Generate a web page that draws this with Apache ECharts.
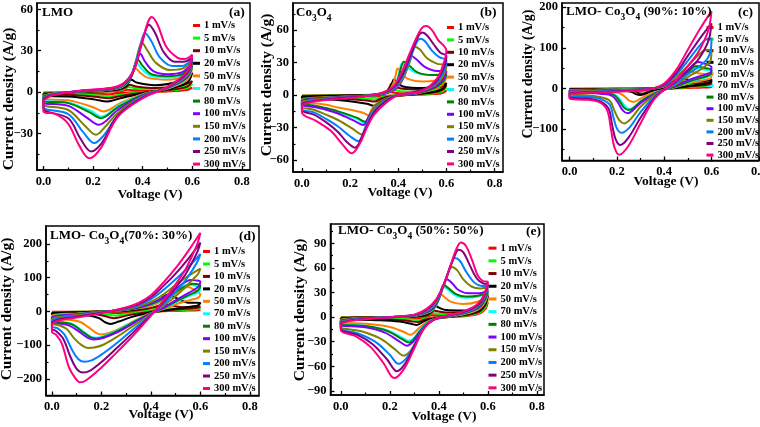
<!DOCTYPE html>
<html><head><meta charset="utf-8">
<script src="https://cdn.jsdelivr.net/npm/echarts@6.0.0/dist/echarts.min.js"></script>
<style>html,body{margin:0;padding:0;background:#fff}#c{width:760px;height:427px}</style>
</head><body><div id="c"></div>
<script>
// ---------------- DATA ----------------
const rates = [1, 5, 10, 20, 50, 70, 80, 100, 150, 200, 250, 300];
const xTicks = [0, 0.2, 0.4, 0.6, 0.8];
const xMinor = [0.1, 0.3, 0.5, 0.7];
const yTicksLMO = [-30, 0, 30, 60];
const yMinorLMO = [-45, -15, 15, 45];
const yTicksCo = [-60, -30, 0, 30, 60];
const yMinorCo = [-45, -15, 15, 45, 75];
const yTicks9010 = [-100, 0, 100, 200];
const yMinor9010 = [-150, -50, 50, 150];
const yTicks7030 = [-200, -100, 0, 100, 200];
const yMinor7030 = [-150, -50, 50, 150];
const yTicks5050 = [-90, -60, -30, 0, 30, 60, 90];
const yMinor5050 = [-75, -45, -15, 15, 45, 75, 105];

// (a) LMO : [voltage, current] loops, one per scan rate
const curvesLMO = [
[[0,-0.3],[0.15,0.1],[0.3,0.6],[0.32,1],[0.338,1.7],[0.36,1.3],[0.45,1],[0.55,1.8],[0.6,3],[0.58,1.5],[0.5,0.5],[0.4,0],[0.3,-0.9],[0.27,-1.5],[0.22,-1.2],[0.1,-0.7],[0,-0.6],[0,-0.3]],
[[0,-0.6],[0.15,0.2],[0.3,1],[0.325,2.2],[0.344,3.6],[0.365,2.9],[0.45,2.2],[0.55,3.5],[0.6,6],[0.58,3],[0.5,1],[0.4,-0.2],[0.31,-2],[0.27,-3],[0.22,-2.4],[0.1,-1.4],[0,-1.1],[0,-0.6]],
[[0,-1],[0.15,0.2],[0.3,1.4],[0.33,3.2],[0.348,5.3],[0.37,4.2],[0.45,3],[0.55,4.5],[0.6,8],[0.58,4],[0.5,1.3],[0.4,-0.4],[0.31,-2.8],[0.265,-4.4],[0.21,-3.4],[0.1,-2],[0,-1.6],[0,-1]],
[[0,-1.5],[0.15,0.3],[0.3,2],[0.335,5],[0.355,9],[0.375,7],[0.45,5],[0.55,8],[0.6,14],[0.58,7],[0.5,2],[0.4,-0.8],[0.31,-4.5],[0.258,-6.8],[0.2,-5.2],[0.1,-3.2],[0,-2.6],[0,-1.5]],
[[0,-2.5],[0.04,-1],[0.15,0.4],[0.3,2.6],[0.34,7],[0.358,13],[0.371,17.4],[0.39,14],[0.42,10.5],[0.5,9],[0.56,11],[0.6,17],[0.58,9],[0.5,2.5],[0.4,-1.5],[0.31,-8],[0.242,-14],[0.2,-11],[0.1,-6],[0,-5],[0,-2.5]],
[[0,-3],[0.04,-1.2],[0.15,0.4],[0.3,2.8],[0.345,8],[0.363,16],[0.377,21],[0.395,17],[0.43,12],[0.5,10.5],[0.56,12.5],[0.6,19],[0.58,10],[0.5,2.8],[0.4,-1.8],[0.3,-10],[0.235,-17.7],[0.19,-13.5],[0.1,-7.5],[0,-6],[0,-3]],
[[0,-3],[0.04,-1.3],[0.15,0.5],[0.3,3],[0.348,9],[0.366,18],[0.381,23.5],[0.4,19],[0.435,13],[0.5,11.5],[0.56,13],[0.6,19.5],[0.58,10.5],[0.5,3],[0.4,-2],[0.3,-11],[0.232,-18.9],[0.185,-14.5],[0.1,-8],[0,-6.5],[0,-3]],
[[0,-3.5],[0.04,-1.5],[0.15,0.6],[0.3,3.2],[0.35,10],[0.372,21],[0.39,27.8],[0.41,22],[0.445,15],[0.5,13],[0.56,14.5],[0.6,21],[0.58,11],[0.5,3],[0.4,-2.5],[0.3,-13],[0.222,-23.7],[0.175,-18.5],[0.1,-10],[0,-7.5],[0,-3.5]],
[[0,-4],[0.04,-1.6],[0.15,0.8],[0.3,3.5],[0.35,11],[0.375,24],[0.397,36],[0.42,30],[0.455,21],[0.51,16],[0.56,17],[0.6,22],[0.58,12],[0.5,3.2],[0.4,-3],[0.3,-15],[0.25,-25],[0.212,-31],[0.165,-24],[0.1,-13],[0,-9],[0,-4]],
[[0,-4.5],[0.04,-1.8],[0.15,0.9],[0.3,3.8],[0.355,13],[0.385,30],[0.41,42.9],[0.435,37],[0.47,25],[0.52,19],[0.56,19],[0.6,24],[0.58,13],[0.5,3.4],[0.4,-3.5],[0.3,-17],[0.245,-31],[0.205,-37],[0.16,-29],[0.1,-16],[0,-11],[0,-4.5]],
[[0,-5],[0.04,-2],[0.15,1],[0.3,4],[0.36,14],[0.395,34],[0.426,48.9],[0.45,43],[0.485,29],[0.53,22],[0.565,22],[0.6,25],[0.58,14],[0.5,3.6],[0.4,-4],[0.3,-17],[0.235,-37],[0.192,-43],[0.15,-34],[0.1,-19],[0,-12],[0,-5]],
[[0,-6],[0.04,-2.2],[0.15,1],[0.3,4.2],[0.36,14],[0.4,38],[0.437,54.5],[0.46,49],[0.495,33],[0.54,25],[0.57,24],[0.6,27],[0.58,15],[0.5,3.8],[0.4,-4.5],[0.3,-18],[0.23,-41],[0.185,-48],[0.145,-39],[0.1,-23],[0.05,-16],[0,-14],[0,-6]]
];

// (b) Co3O4
const curvesCo3O4 = [
[[0,-0.3],[0.15,0],[0.3,0.2],[0.34,1],[0.36,3],[0.38,2.3],[0.42,1.6],[0.5,1.5],[0.56,2.5],[0.6,4],[0.585,2],[0.55,1],[0.45,0],[0.37,-0.4],[0.33,-0.9],[0.3,-1.5],[0.27,-1.3],[0.15,-0.8],[0.05,-0.6],[0,-0.6],[0,-0.3]],
[[0,-0.6],[0.15,-0.2],[0.3,0.2],[0.34,1.5],[0.355,4],[0.366,6.2],[0.38,5],[0.41,3.5],[0.5,3],[0.56,4.5],[0.6,7],[0.585,3.5],[0.55,1.8],[0.45,0.2],[0.37,-0.7],[0.33,-2],[0.3,-4],[0.27,-3.3],[0.15,-2],[0.05,-1.5],[0,-1.4],[0,-0.6]],
[[0,-1],[0.15,-0.4],[0.3,0.3],[0.345,2],[0.362,6.5],[0.372,10.8],[0.385,8.5],[0.41,6],[0.5,5],[0.56,6.5],[0.6,9],[0.585,5],[0.55,2.5],[0.45,0.3],[0.37,-1],[0.33,-3],[0.3,-6],[0.27,-5],[0.15,-3],[0.05,-2.2],[0,-2],[0,-1]],
[[0,-1.5],[0.15,-0.6],[0.3,0.4],[0.35,2.5],[0.37,8],[0.382,14.5],[0.395,12],[0.42,8],[0.5,6.5],[0.56,8],[0.6,11],[0.585,6],[0.55,3],[0.45,0.5],[0.37,-1.5],[0.33,-4.5],[0.297,-9.8],[0.27,-8],[0.15,-4.5],[0.05,-3.3],[0,-3],[0,-1.5]],
[[0,-3.5],[0.05,-2.5],[0.15,-1.5],[0.25,-0.5],[0.33,0.6],[0.36,3.5],[0.38,11],[0.39,19],[0.397,24.6],[0.41,21],[0.44,15],[0.5,12.5],[0.56,13.5],[0.6,16],[0.585,10],[0.55,5.5],[0.48,1.5],[0.4,-0.3],[0.35,-3],[0.31,-8],[0.29,-13],[0.276,-18.5],[0.25,-16],[0.15,-11.5],[0.1,-9],[0.05,-7.5],[0,-6.5],[0,-3.5]],
[[0,-4.5],[0.05,-3.2],[0.15,-1.9],[0.25,-0.7],[0.33,0.6],[0.37,4],[0.393,13],[0.405,22],[0.415,29],[0.43,27],[0.47,21],[0.53,18.5],[0.6,20],[0.585,12.5],[0.55,7],[0.48,1.9],[0.4,0],[0.35,-3.7],[0.31,-9.5],[0.285,-18],[0.262,-26],[0.23,-22],[0.15,-16],[0.1,-12.5],[0.05,-10],[0,-8.5],[0,-4.5]],
[[0,-4.5],[0.05,-3],[0.15,-1.8],[0.25,-0.7],[0.33,0.6],[0.37,4],[0.395,12],[0.41,24],[0.423,30.8],[0.44,28.5],[0.48,21],[0.54,18.5],[0.6,19],[0.585,12],[0.55,6.5],[0.48,1.8],[0.4,0],[0.35,-3.5],[0.31,-9],[0.285,-17],[0.262,-24.6],[0.23,-21],[0.15,-15],[0.1,-12],[0.05,-9.5],[0,-8],[0,-4.5]],
[[0,-5],[0.05,-3.5],[0.15,-2],[0.25,-0.8],[0.33,0.7],[0.38,4],[0.415,13],[0.44,27],[0.455,36],[0.475,33],[0.51,26],[0.55,22.5],[0.6,22],[0.585,14],[0.55,7.5],[0.48,2],[0.4,0],[0.35,-4],[0.31,-10],[0.28,-19],[0.255,-27.7],[0.22,-24],[0.15,-17],[0.1,-13.5],[0.05,-11],[0,-9],[0,-5]],
[[0,-6],[0.05,-4],[0.15,-2.4],[0.25,-1],[0.33,1.2],[0.38,5],[0.42,16],[0.45,32],[0.469,44.6],[0.49,42],[0.52,34],[0.56,29],[0.6,27],[0.585,17],[0.55,9],[0.48,2.5],[0.4,0],[0.35,-4.5],[0.3,-12],[0.275,-24],[0.248,-36.3],[0.21,-31],[0.15,-23],[0.1,-18],[0.05,-13.5],[0,-11],[0,-6]],
[[0,-7],[0.05,-5],[0.15,-2.8],[0.25,-1.2],[0.33,1.6],[0.38,6],[0.42,18],[0.45,34],[0.475,48],[0.49,52],[0.51,50],[0.54,41],[0.57,35],[0.6,32],[0.585,20],[0.55,10],[0.48,3],[0.4,0],[0.35,-5],[0.3,-14],[0.265,-29],[0.234,-42.5],[0.2,-38],[0.15,-29],[0.1,-22],[0.05,-16],[0,-13],[0,-7]],
[[0,-8],[0.05,-5.5],[0.15,-3],[0.25,-1.3],[0.33,1.8],[0.38,7],[0.42,20],[0.455,39],[0.485,55],[0.5,57.8],[0.52,55],[0.55,46],[0.575,39],[0.6,36],[0.585,23],[0.55,11],[0.48,3.5],[0.4,0],[0.35,-5.5],[0.3,-16],[0.26,-33],[0.22,-48.6],[0.185,-43],[0.15,-34],[0.1,-25],[0.05,-18],[0,-14],[0,-8]],
[[0,-9],[0.05,-6],[0.15,-3.5],[0.25,-1.5],[0.33,2],[0.38,8],[0.42,24],[0.46,45],[0.495,61],[0.517,63.7],[0.54,60],[0.565,51],[0.6,41],[0.585,27],[0.56,15],[0.5,4],[0.4,0],[0.35,-7],[0.3,-18],[0.27,-30],[0.24,-45],[0.207,-53.8],[0.17,-46],[0.12,-33],[0.06,-24],[0,-16],[0,-9]]
];

// (c) LMO-Co3O4 (90%:10%)
const curves9010 = [
[[0,-0.4],[0.2,-0.2],[0.3,0],[0.4,1],[0.44,2.5],[0.46,4],[0.49,3.2],[0.55,3],[0.6,5],[0.597,3.2],[0.55,2],[0.5,1.2],[0.45,0.3],[0.4,-0.4],[0.35,-1.2],[0.33,-3],[0.31,-2.4],[0.28,-1.2],[0.2,-0.8],[0.1,-0.7],[0,-0.7],[0,-0.4]],
[[0,-1],[0.1,-0.8],[0.2,-0.6],[0.3,-0.3],[0.36,0.4],[0.42,3],[0.45,7],[0.47,11],[0.5,9],[0.55,8],[0.6,12],[0.597,8],[0.58,6.5],[0.55,5],[0.5,3],[0.45,0.8],[0.4,-1],[0.35,-3],[0.32,-8],[0.3,-6.5],[0.28,-3.5],[0.2,-2],[0.1,-1.7],[0,-1.6],[0,-1]],
[[0,-1.5],[0.1,-1.3],[0.2,-1],[0.3,-0.5],[0.36,0.5],[0.42,4],[0.455,10],[0.475,16],[0.5,14],[0.55,12],[0.6,17],[0.597,11],[0.58,9],[0.55,7],[0.5,4.5],[0.45,1],[0.4,-1.5],[0.35,-4.5],[0.31,-13],[0.29,-11],[0.27,-6],[0.2,-3.5],[0.1,-2.7],[0,-2.5],[0,-1.5]],
[[0,-2],[0.1,-1.7],[0.2,-1.4],[0.3,-0.8],[0.36,0.5],[0.42,5],[0.46,14],[0.485,23],[0.51,20],[0.55,17],[0.6,22],[0.597,15],[0.58,12],[0.55,9],[0.5,6],[0.45,1.5],[0.4,-2],[0.35,-6],[0.3,-16],[0.28,-14],[0.26,-8],[0.2,-4.5],[0.1,-3.5],[0,-3.2],[0,-2]],
[[0,-3.5],[0.1,-3],[0.2,-2.4],[0.3,-1.5],[0.35,0],[0.4,5],[0.45,15],[0.49,32],[0.515,41],[0.55,37],[0.6,32],[0.597,25],[0.58,22],[0.55,18],[0.5,12],[0.45,3.5],[0.4,-3],[0.35,-11],[0.3,-25],[0.27,-33],[0.25,-29],[0.23,-18],[0.2,-10],[0.13,-7],[0.08,-6.5],[0,-6],[0,-3.5]],
[[0,-4.5],[0.1,-3.8],[0.2,-3],[0.3,-1.8],[0.35,0],[0.4,6],[0.45,18],[0.5,37],[0.53,50],[0.56,47],[0.6,42],[0.597,33],[0.58,28],[0.55,23],[0.5,15],[0.45,4.5],[0.4,-3],[0.36,-11],[0.305,-30],[0.275,-45],[0.255,-50],[0.235,-44],[0.215,-28],[0.19,-14],[0.13,-10],[0.08,-8.5],[0,-8],[0,-4.5]],
[[0,-5],[0.1,-4],[0.2,-3.2],[0.3,-2],[0.35,0],[0.4,6],[0.45,19],[0.5,40],[0.535,55],[0.565,51],[0.6,45],[0.597,35],[0.58,30],[0.55,25],[0.5,16],[0.45,5],[0.4,-3],[0.36,-12],[0.3,-32],[0.27,-48],[0.25,-53],[0.23,-47],[0.21,-30],[0.185,-15],[0.13,-11],[0.08,-9],[0,-8.5],[0,-5]],
[[0,-6],[0.1,-5],[0.2,-4],[0.3,-2.5],[0.35,0],[0.4,7],[0.45,22],[0.5,45],[0.545,65],[0.575,60],[0.6,52],[0.597,40],[0.58,35],[0.55,30],[0.5,20],[0.45,7],[0.4,-3],[0.36,-14],[0.3,-36],[0.265,-55],[0.245,-61],[0.225,-54],[0.205,-35],[0.18,-18],[0.13,-13],[0.08,-11],[0,-10],[0,-6]],
[[0,-8],[0.1,-6.5],[0.2,-5],[0.3,-3.5],[0.35,-1],[0.4,8],[0.45,28],[0.5,55],[0.55,85],[0.58,95],[0.6,92],[0.597,70],[0.58,58],[0.55,45],[0.5,28],[0.45,10],[0.4,-3],[0.355,-18],[0.3,-45],[0.26,-74],[0.23,-86],[0.21,-78],[0.19,-55],[0.17,-30],[0.13,-21],[0.08,-17],[0,-15],[0,-8]],
[[0,-10],[0.1,-8],[0.2,-6],[0.3,-4],[0.35,-1],[0.4,9],[0.45,33],[0.5,68],[0.55,105],[0.575,120],[0.6,122],[0.597,95],[0.585,75],[0.55,55],[0.5,35],[0.45,13],[0.4,-3],[0.355,-22],[0.3,-58],[0.255,-95],[0.22,-109],[0.2,-98],[0.185,-70],[0.17,-40],[0.13,-26],[0.08,-21],[0,-19],[0,-10]],
[[0,-12],[0.1,-9],[0.2,-7],[0.3,-4.5],[0.35,-1],[0.4,10],[0.45,38],[0.5,80],[0.55,122],[0.6,160],[0.59,122],[0.57,95],[0.54,68],[0.5,45],[0.45,17],[0.4,-3],[0.355,-26],[0.3,-72],[0.25,-120],[0.215,-139],[0.195,-125],[0.18,-90],[0.165,-50],[0.13,-32],[0.08,-25],[0,-22],[0,-12]],
[[0,-13],[0.1,-10],[0.2,-8],[0.3,-5],[0.35,-1],[0.4,12],[0.45,45],[0.5,95],[0.55,145],[0.6,190],[0.59,150],[0.57,118],[0.54,85],[0.5,55],[0.45,20],[0.4,-3],[0.355,-29],[0.3,-86],[0.25,-140],[0.21,-163],[0.19,-145],[0.175,-100],[0.16,-55],[0.13,-35],[0.08,-28],[0,-25],[0,-13]]
];

// (d) LMO-Co3O4 (70%:30%)
const curves7030 = [
[[0,-1],[0.1,-0.6],[0.25,0.1],[0.33,0.9],[0.38,2.2],[0.43,5],[0.47,4.3],[0.52,3.5],[0.56,3.5],[0.6,5],[0.59,3.5],[0.55,2.6],[0.5,1.6],[0.45,0.5],[0.4,-0.5],[0.35,-1.6],[0.3,-3.5],[0.27,-5],[0.24,-4.2],[0.2,-3],[0.1,-1.8],[0,-1.6],[0,-1]],
[[0,-2],[0.05,-1.6],[0.15,-0.8],[0.25,0.3],[0.33,2],[0.38,4.5],[0.42,8.5],[0.44,11],[0.47,10],[0.52,7.5],[0.56,7.5],[0.6,10],[0.59,7],[0.56,5.5],[0.52,4],[0.47,2],[0.42,0],[0.37,-2.5],[0.31,-7],[0.28,-10.5],[0.26,-12],[0.24,-10.5],[0.2,-7],[0.15,-4.5],[0.08,-3.7],[0,-3.5],[0,-2]],
[[0,-3],[0.05,-2.5],[0.15,-1.3],[0.25,0.5],[0.33,3],[0.38,7],[0.42,14],[0.45,20],[0.48,18],[0.52,13],[0.56,12],[0.6,15],[0.59,11],[0.56,9],[0.52,6.5],[0.47,3],[0.42,0],[0.37,-4],[0.31,-11],[0.27,-18],[0.25,-20],[0.23,-17],[0.2,-11],[0.15,-7],[0.08,-6],[0,-5.5],[0,-3]],
[[0,-5],[0.05,-4],[0.15,-2],[0.25,1],[0.33,5],[0.38,12],[0.42,25],[0.445,40],[0.465,49],[0.49,44],[0.52,33],[0.55,26],[0.6,25],[0.59,18],[0.57,15],[0.53,11],[0.48,6],[0.43,0],[0.38,-6],[0.32,-17],[0.27,-30],[0.237,-37],[0.215,-32],[0.19,-20],[0.15,-12],[0.08,-10],[0,-9],[0,-5]],
[[0,-12],[0.02,-9],[0.1,-6],[0.2,-1],[0.3,4.5],[0.35,9],[0.4,17],[0.45,32],[0.5,52],[0.53,66],[0.55,72],[0.575,64],[0.6,50],[0.59,40],[0.57,36],[0.54,30],[0.5,21],[0.46,9],[0.42,-1],[0.385,-9],[0.34,-25],[0.28,-48],[0.23,-64],[0.2,-68],[0.18,-64],[0.15,-48],[0.11,-30],[0.05,-24],[0,-23],[0,-12]],
[[0,-15],[0.02,-12],[0.1,-7.5],[0.2,-1.2],[0.3,5.2],[0.35,10.5],[0.4,20],[0.45,36],[0.5,58],[0.53,74],[0.55,80],[0.575,77],[0.6,68],[0.59,56],[0.57,50],[0.54,41],[0.5,27],[0.46,12],[0.42,0],[0.385,-10],[0.33,-30],[0.27,-54],[0.215,-72],[0.18,-78],[0.155,-74],[0.12,-56],[0.08,-36],[0.03,-30],[0,-29],[0,-15]],
[[0,-16],[0.02,-12.5],[0.1,-8],[0.2,-1.3],[0.3,5.5],[0.35,11],[0.4,21],[0.45,37],[0.5,58],[0.54,75],[0.57,82],[0.6,76],[0.59,62],[0.57,54],[0.54,44],[0.5,29],[0.46,13],[0.42,0],[0.385,-11],[0.33,-32],[0.27,-56],[0.215,-74],[0.18,-80],[0.155,-76],[0.12,-58],[0.08,-38],[0.03,-32],[0,-31],[0,-16]],
[[0,-18],[0.02,-14],[0.1,-9],[0.2,-1.5],[0.3,6],[0.35,12],[0.4,24],[0.45,42],[0.5,66],[0.535,85],[0.56,93],[0.58,92],[0.6,88],[0.59,72],[0.57,62],[0.54,50],[0.5,33],[0.46,15],[0.42,0],[0.385,-12],[0.33,-35],[0.27,-60],[0.21,-78],[0.17,-83],[0.145,-78],[0.11,-60],[0.07,-42],[0.03,-36],[0,-35],[0,-18]],
[[0,-22],[0.02,-17],[0.1,-11],[0.2,-2],[0.3,7],[0.35,15],[0.4,28],[0.45,50],[0.5,78],[0.55,105],[0.6,127],[0.59,110],[0.57,95],[0.54,72],[0.5,45],[0.46,22],[0.42,2],[0.385,-15],[0.33,-42],[0.27,-72],[0.21,-98],[0.17,-107],[0.145,-108],[0.12,-100],[0.09,-80],[0.06,-52],[0.025,-40],[0,-38],[0,-22]],
[[0,-28],[0.02,-21],[0.1,-14],[0.2,-3],[0.3,9],[0.35,19],[0.4,36],[0.45,63],[0.5,95],[0.55,130],[0.6,170],[0.59,150],[0.57,125],[0.54,92],[0.5,58],[0.46,28],[0.42,3],[0.385,-19],[0.325,-55],[0.26,-95],[0.2,-128],[0.16,-145],[0.13,-149],[0.105,-140],[0.08,-112],[0.05,-68],[0.02,-49],[0,-45],[0,-28]],
[[0,-33],[0.02,-25],[0.1,-16],[0.2,-4],[0.3,11],[0.35,22],[0.4,42],[0.45,75],[0.5,112],[0.55,155],[0.6,204],[0.59,180],[0.57,150],[0.54,110],[0.5,70],[0.46,35],[0.42,4],[0.385,-22],[0.325,-65],[0.26,-110],[0.2,-150],[0.155,-175],[0.125,-181],[0.1,-170],[0.075,-135],[0.045,-80],[0.015,-57],[0,-52],[0,-33]],
[[0,-38],[0.02,-28],[0.1,-18],[0.2,-5],[0.3,12],[0.35,25],[0.4,48],[0.45,85],[0.5,128],[0.55,178],[0.6,233],[0.59,205],[0.57,170],[0.54,125],[0.5,80],[0.46,40],[0.42,5],[0.385,-26],[0.324,-75],[0.257,-125],[0.19,-173],[0.14,-203],[0.115,-210],[0.095,-198],[0.068,-164],[0.04,-95],[0.015,-68],[0,-61],[0,-38]]
];

// (e) LMO-Co3O4 (50%:50%)
const curves5050 = [
[[0,-0.3],[0.15,0],[0.3,0.2],[0.35,0.8],[0.37,2.5],[0.39,2.2],[0.45,1.8],[0.5,2],[0.55,6],[0.6,18],[0.59,10],[0.57,5],[0.53,2],[0.47,0.4],[0.4,-0.3],[0.34,-0.9],[0.32,-1.5],[0.28,-1.2],[0.15,-0.6],[0,-0.5],[0,-0.3]],
[[0,-0.6],[0.1,-0.3],[0.22,0],[0.3,0.3],[0.35,1.3],[0.365,3.5],[0.375,5],[0.39,4.5],[0.43,3.5],[0.5,3.5],[0.55,8],[0.6,22],[0.59,12],[0.57,6],[0.53,2.5],[0.47,0.6],[0.42,-0.3],[0.38,-0.9],[0.34,-2],[0.32,-3.5],[0.29,-3],[0.24,-2],[0.15,-1.4],[0.05,-1.2],[0,-1.2],[0,-0.6]],
[[0,-1],[0.1,-0.4],[0.22,0],[0.3,0.5],[0.35,2],[0.37,5.5],[0.38,8],[0.395,7],[0.43,5.5],[0.5,5.5],[0.55,10],[0.6,26],[0.59,15],[0.57,7.5],[0.53,3.5],[0.47,0.9],[0.42,-0.4],[0.38,-1.4],[0.34,-3.3],[0.315,-6],[0.29,-5.3],[0.24,-3.5],[0.15,-2.4],[0.05,-2],[0,-2],[0,-1]],
[[0,-1.5],[0.1,-0.6],[0.22,0],[0.3,0.8],[0.35,3],[0.37,8],[0.385,14],[0.4,11.5],[0.43,8.5],[0.5,8],[0.55,12],[0.6,27],[0.59,17],[0.57,9],[0.53,4.5],[0.47,1.2],[0.42,-0.5],[0.38,-2],[0.34,-5],[0.31,-9.5],[0.29,-8.5],[0.24,-5.5],[0.15,-3.8],[0.05,-3.2],[0,-3],[0,-1.5]],
[[0,-3],[0.04,-1.8],[0.12,-0.8],[0.22,0.1],[0.3,1.4],[0.35,4.5],[0.38,10],[0.395,20],[0.405,29],[0.42,25],[0.45,18.5],[0.5,16],[0.56,19],[0.6,28],[0.59,19],[0.57,11],[0.54,6.5],[0.48,2.2],[0.42,-0.3],[0.38,-2.5],[0.35,-6],[0.32,-13],[0.3,-19],[0.283,-21.5],[0.26,-18.5],[0.2,-12],[0.1,-8],[0,-6.5],[0,-3]],
[[0,-3.8],[0.04,-2.2],[0.12,-1],[0.22,0.2],[0.3,1.7],[0.35,5.2],[0.38,10.5],[0.4,21],[0.418,37],[0.44,33],[0.47,26],[0.51,23.5],[0.56,25],[0.6,30],[0.59,21],[0.57,12.5],[0.54,7.5],[0.48,2.6],[0.42,0],[0.38,-2.6],[0.35,-7.5],[0.32,-17],[0.3,-25],[0.28,-29],[0.25,-25],[0.19,-16],[0.1,-10.5],[0,-8],[0,-3.8]],
[[0,-4],[0.04,-2.3],[0.12,-1],[0.22,0.2],[0.3,1.8],[0.35,5.5],[0.38,11],[0.4,22],[0.42,39.4],[0.44,35],[0.47,28],[0.51,25],[0.56,26],[0.6,31],[0.59,22],[0.57,13],[0.54,8],[0.48,2.8],[0.42,0],[0.38,-2.8],[0.35,-8],[0.32,-18],[0.298,-27],[0.278,-31],[0.25,-27],[0.19,-17],[0.1,-11],[0,-8.5],[0,-4]],
[[0,-4.5],[0.04,-2.6],[0.12,-1.2],[0.22,0.2],[0.3,2],[0.35,6],[0.38,12],[0.405,26],[0.433,46],[0.455,41],[0.48,33],[0.52,29],[0.56,29],[0.6,33],[0.59,24],[0.57,14],[0.54,8.5],[0.48,3],[0.42,0],[0.38,-3],[0.35,-9],[0.32,-20],[0.295,-30],[0.27,-35],[0.24,-30],[0.18,-19],[0.1,-12.5],[0,-9.5],[0,-4.5]],
[[0,-5.5],[0.04,-3.2],[0.12,-1.4],[0.22,0.3],[0.3,2.3],[0.35,7],[0.38,14],[0.405,27],[0.43,46],[0.453,61],[0.475,57],[0.5,46],[0.535,37],[0.57,35],[0.6,36],[0.59,26],[0.57,16],[0.54,9.5],[0.48,3.5],[0.42,0.3],[0.38,-3],[0.345,-11],[0.315,-26],[0.285,-41],[0.256,-47],[0.22,-39],[0.16,-26],[0.08,-17],[0,-12],[0,-5.5]],
[[0,-6.5],[0.04,-3.6],[0.12,-1.6],[0.22,0.4],[0.3,2.5],[0.35,8],[0.38,16],[0.41,31],[0.435,52],[0.452,66],[0.464,72],[0.485,69],[0.51,56],[0.545,42],[0.575,38],[0.6,38],[0.59,28],[0.57,17],[0.54,10],[0.48,4],[0.42,0.6],[0.38,-3],[0.34,-12],[0.305,-31],[0.268,-50],[0.235,-57],[0.2,-46],[0.14,-30],[0.07,-20],[0,-13.5],[0,-6.5]],
[[0,-7],[0.04,-4],[0.12,-1.8],[0.22,0.4],[0.3,2.7],[0.35,9],[0.385,19],[0.415,36],[0.445,60],[0.465,75],[0.48,82],[0.5,79],[0.525,64],[0.555,47],[0.58,41],[0.6,40],[0.59,30],[0.57,18],[0.54,11],[0.48,4.5],[0.42,0.8],[0.38,-3],[0.34,-13],[0.3,-35],[0.262,-57],[0.229,-66],[0.19,-52],[0.13,-33],[0.07,-22],[0,-14.5],[0,-7]],
[[0,-8],[0.04,-4.5],[0.12,-2],[0.22,0.5],[0.3,3],[0.35,10],[0.39,22],[0.42,40],[0.45,65],[0.47,82],[0.49,91],[0.51,87],[0.535,70],[0.56,50],[0.58,44],[0.6,43],[0.59,32],[0.57,20],[0.54,12],[0.48,5],[0.42,1],[0.378,-3],[0.337,-15],[0.297,-40],[0.256,-64],[0.218,-74.4],[0.174,-56],[0.12,-36],[0.065,-24],[0,-16],[0,-8]]
];

// ---------------- STYLE / LAYOUT ----------------
const colors = ['#ff0000','#00ff00','#800000','#000000','#ff8000','#00ffff','#008000','#8000ff','#808000','#0080ff','#800080','#ff0080'];
const FONT = "'Liberation Serif','Times New Roman',serif";
const panels = [
  {curves: curvesLMO, grid:{left:37,top:3,width:213,height:167}, x:[-0.026,0.833], y:[-56.5,64.6], yt:yTicksLMO, ym:yMinorLMO,
   legend:{left:193,top:19.2,h:12.6,w:7}},
  {curves: curvesCo3O4, grid:{left:293,top:3,width:210,height:169}, x:[-0.037,0.835], y:[-71,85], yt:yTicksCo, ym:yMinorCo,
   legend:{left:447,top:21.3,h:12.4,w:7}},
  {curves: curves9010, grid:{left:562,top:3,width:197,height:157.5}, x:[-0.032,0.801], y:[-177,210], yt:yTicks9010, ym:yMinor9010,
   legend:{left:706.5,top:21.7,h:11.6,w:7}},
  {curves: curves7030, grid:{left:46,top:226,width:213,height:169.5}, x:[-0.024,0.837], y:[-249,253], yt:yTicks7030, ym:yMinor7030,
   legend:{left:203,top:245.3,h:12.45,w:7}},
  {curves: curves5050, grid:{left:330.5,top:224,width:213.5,height:171}, x:[-0.042,0.829], y:[-95,113.5], yt:yTicks5050, ym:yMinor5050,
   legend:{left:488.5,top:241.8,h:12.7,w:8}}
];
const names = rates.map(r => r + ' mV/s');
const fmtY = v => v < 0 ? '\u2212' + (-v) : String(v);

const grids = [], xAxes = [], yAxes = [], series = [], legends = [];
panels.forEach((p, pi) => {
  grids.push(Object.assign({show:true, borderColor:'#000', borderWidth:1.5, backgroundColor:'transparent', containLabel:false, outerBoundsMode:'none'}, p.grid));
  const common = {gridIndex:pi, type:'value', splitLine:{show:false}};
  xAxes.push(Object.assign({}, common, {position:'bottom', min:p.x[0], max:p.x[1],
    axisLine:{show:true, onZero:false, lineStyle:{color:'#000', width:1.5}},
    axisTick:{show:true, inside:true, length:4, customValues:xTicks, lineStyle:{color:'#000', width:1.3}},
    axisLabel:{show:true, customValues:xTicks, formatter:v => v.toFixed(1), color:'#000', fontFamily:FONT, fontWeight:'bold', fontSize:12.5, margin:5}}));
  xAxes.push(Object.assign({}, common, {position:'bottom', min:p.x[0], max:p.x[1],
    axisLine:{show:false, onZero:false}, axisLabel:{show:false},
    axisTick:{show:true, inside:true, length:2.5, customValues:xMinor, lineStyle:{color:'#000', width:1.2}}}));
  yAxes.push(Object.assign({}, common, {position:'left', min:p.y[0], max:p.y[1],
    axisLine:{show:true, onZero:false, lineStyle:{color:'#000', width:1.5}},
    axisTick:{show:true, inside:true, length:4, customValues:p.yt, lineStyle:{color:'#000', width:1.3}},
    axisLabel:{show:true, customValues:p.yt, formatter:fmtY, color:'#000', fontFamily:FONT, fontWeight:'bold', fontSize:12.5, margin:4}}));
  yAxes.push(Object.assign({}, common, {position:'left', min:p.y[0], max:p.y[1],
    axisLine:{show:false, onZero:false}, axisLabel:{show:false},
    axisTick:{show:true, inside:true, length:2.5, customValues:p.ym, lineStyle:{color:'#000', width:1.2}}}));
  p.curves.forEach((c, i) => {
    series.push({type:'line', name:names[i], xAxisIndex:pi*2, yAxisIndex:pi*2, data:c,
      smooth:0.35, showSymbol:false, symbol:'none', clip:true, animation:false,
      lineStyle:{color:colors[i], width:2}, itemStyle:{color:colors[i]}, z:2+i});
  });
  legends.push({orient:'vertical', left:p.legend.left, top:p.legend.top, data:names, icon:'rect',
    itemWidth:p.legend.w, itemHeight:3, itemGap:0, padding:0, selectedMode:false,
    textStyle:{fontFamily:FONT, fontWeight:'bold', fontSize:10.5, color:'#000', lineHeight:p.legend.h, padding:[0,0,0,-1]}});
});

const tFont = sz => 'bold ' + sz + 'px ' + FONT;
const sub = {
  t:{fontFamily:FONT, fontWeight:'bold', fontSize:13, fill:'#000', lineHeight:15, verticalAlign:'top'},
  s:{fontFamily:FONT, fontWeight:'bold', fontSize:9.5, fill:'#000', lineHeight:10, padding:[7,0,0,0], verticalAlign:'top'}
};
const txt = (x, y, text, sz) => ({type:'text', x:x, y:y, z:100,
  style:{text:text, font:tFont(sz), fill:'#000', align:'left', verticalAlign:'middle'}});
const rich = (x, y, text) => ({type:'text', x:x, y:y, z:100,
  style:{text:text, rich:sub, fill:'#000', align:'left', verticalAlign:'middle', font:tFont(13)}});
const yName = (x, y, sz) => ({type:'text', x:x, y:y, rotation:Math.PI/2, z:100,
  style:{text:'Current density (A/g)', font:tFont(sz), fill:'#000', align:'center', verticalAlign:'middle'}});
const xName = (x, y) => ({type:'text', x:x, y:y, z:100,
  style:{text:'Voltage (V)', font:tFont(13.5), fill:'#000', align:'center', verticalAlign:'middle'}});

const graphics = [
  txt(42, 13, 'LMO', 13), txt(229, 13, '(a)', 13.5),
  rich(296, 14, '{t|Co}{s|3}{t|O}{s|4}'), txt(480, 13, '(b)', 13.5),
  rich(566, 13, '{t|LMO- Co}{s|3}{t|O}{s|4}{t| (90%: 10%)}'), txt(738, 13, '(c)', 13.5),
  rich(50, 237, '{t|LMO- Co}{s|3}{t|O}{s|4}{t|(70%: 30%)}'), txt(239, 237, '(d)', 13.5),
  rich(338, 232, '{t|LMO- Co}{s|3}{t|O}{s|4}{t| (50%: 50%)}'), txt(526, 232, '(e)', 13.5),
  yName(9, 99, 15.5), yName(267, 85, 15.5), yName(528, 74, 14), yName(7, 309, 15.5), yName(300, 310, 15.5),
  xName(150, 195), xName(400, 193), xName(666, 182), xName(161, 415), xName(444, 417)
];

const chart = echarts.init(document.getElementById('c'), null, {renderer:'canvas'});
chart.setOption({
  animation:false, backgroundColor:'#fff',
  grid:grids, xAxis:xAxes, yAxis:yAxes, series:series, legend:legends, graphic:graphics
});
</script></body></html>
